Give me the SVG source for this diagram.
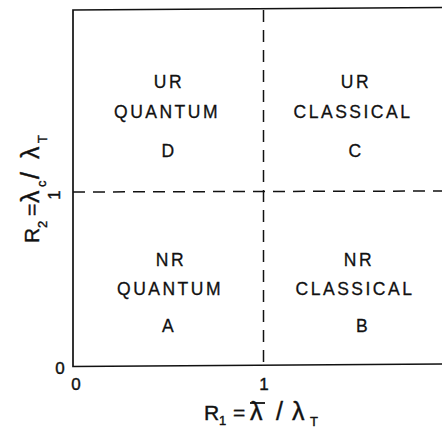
<svg xmlns="http://www.w3.org/2000/svg" width="442" height="431" viewBox="0 0 442 431">
<style>
.frame{fill:none;stroke:#111;stroke-width:1.7}
.dash{fill:none;stroke:#111;stroke-width:1.5;stroke-dasharray:12 8}
.lbl{font-family:"Liberation Sans","DejaVu Sans",sans-serif;font-size:17.5px;fill:#111;stroke:#111;stroke-width:0.3;text-anchor:middle;letter-spacing:2.5px}
.ax{font-family:"Liberation Sans","DejaVu Sans",sans-serif;font-size:21px;fill:#111;stroke:#111;stroke-width:0.4}
.num{font-family:"Liberation Sans","DejaVu Sans",sans-serif;font-size:17px;fill:#111;stroke:#111;stroke-width:0.4;text-anchor:middle}
.sub{font-size:13px}
.big{font-size:25px}
</style>
<rect width="442" height="431" fill="#fff"/>
<g id="frame">
<path class="frame" d="M442,7.5 L73,10 L73,366.5 L442,364"/>
</g>
<g id="connectors">
<path class="dash" d="M263.5,10 L263.5,366"/>
<path class="dash" d="M73,192 L442,191"/>
</g>
<g id="regionD">
<text class="lbl" x="169" y="88">UR</text>
<text class="lbl" x="167" y="118">QUANTUM</text>
<text class="lbl" x="169" y="157">D</text>
</g>
<g id="regionC">
<text class="lbl" x="356" y="88">UR</text>
<text class="lbl" x="353" y="118">CLASSICAL</text>
<text class="lbl" x="356" y="157">C</text>
</g>
<g id="regionA">
<text class="lbl" x="171" y="266">NR</text>
<text class="lbl" x="170" y="295">QUANTUM</text>
<text class="lbl" x="169" y="332">A</text>
</g>
<g id="regionB">
<text class="lbl" x="359" y="266">NR</text>
<text class="lbl" x="355" y="295">CLASSICAL</text>
<text class="lbl" x="363" y="332">B</text>
</g>
<g id="axes">
<text class="num" x="60" y="374">0</text>
<text class="num" x="76" y="390">0</text>
<text class="num" x="264" y="390">1</text>
<text class="num" transform="translate(60,195) rotate(-90)">1</text>
<text class="ax" y="420"><tspan x="204">R</tspan><tspan class="sub" x="219" dy="5">1</tspan><tspan x="233" dy="-5">=</tspan><tspan class="big" x="250">λ</tspan><tspan class="big" x="276">/</tspan><tspan class="big" x="292">λ</tspan><tspan class="sub" x="310" dy="6">T</tspan></text>
<path d="M250,403 L265,403" stroke="#111" stroke-width="1.8"/>
<text class="ax" transform="translate(39,243) rotate(-90)" y="0"><tspan x="0">R</tspan><tspan class="sub" x="15" dy="8">2</tspan><tspan x="27" dy="-8">=</tspan><tspan class="big" x="40">λ</tspan><tspan class="sub" x="56" dy="7">c</tspan><tspan class="big" x="64" dy="-7">/</tspan><tspan class="big" x="84">λ</tspan><tspan class="sub" x="100" dy="8">T</tspan></text>
</g>
</svg>
